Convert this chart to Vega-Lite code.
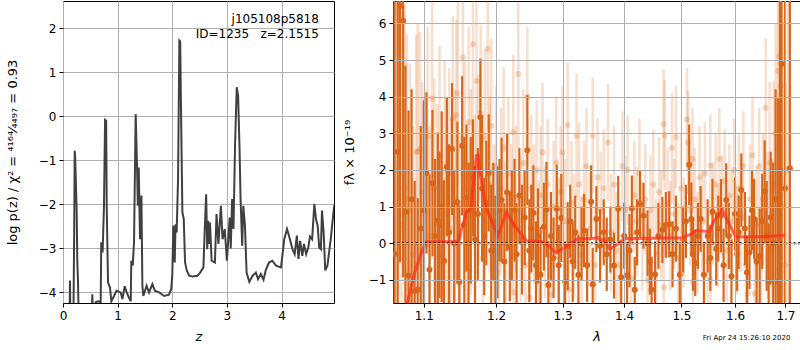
{
  "$schema": "https://vega.github.io/schema/vega-lite/v6.json",
  "autosize": {"type": "pad"},
  "padding": {"left": 5, "top": 0, "right": 1, "bottom": 0},
  "bounds": "flush",
  "spacing": 59,
  "background": "white",
  "config": {
    "font": "DejaVu Sans",
    "view": {"stroke": "black", "strokeWidth": 1},
    "axis": {"domain": false, "grid": true, "gridColor": "#b0b0b0", "gridWidth": 1, "tickColor": "black", "tickSize": 4, "labelFontSize": 12, "labelColor": "black", "titleFontSize": 13, "titleFontWeight": "normal", "titleColor": "black", "labelPadding": 3, "labelFlush": false}
  },
  "datasets": {
    "pz": [
      {"z":0.0,"lp":-5},{"z":0.1,"lp":-4.8},{"z":0.12,"lp":-4.5},{"z":0.128,"lp":-3.73},{"z":0.136,"lp":-4.6},{"z":0.19,"lp":-4.7},{"z":0.205,"lp":-2.6},{"z":0.214,"lp":-0.78},{"z":0.222,"lp":-0.9},{"z":0.25,"lp":-2.14},{"z":0.262,"lp":-3.3},{"z":0.275,"lp":-3.77},{"z":0.29,"lp":-4.8},{"z":0.52,"lp":-4.7},{"z":0.537,"lp":-4.04},{"z":0.55,"lp":-4.6},{"z":0.6,"lp":-4.22},{"z":0.65,"lp":-4.2},{"z":0.69,"lp":-4.22},{"z":0.70,"lp":-2.86},{"z":0.725,"lp":-3.09},{"z":0.75,"lp":-2.03},{"z":0.77,"lp":-0.08},{"z":0.79,"lp":-0.1},{"z":0.80,"lp":-2.03},{"z":0.824,"lp":-3.77},{"z":0.86,"lp":-3.89},{"z":0.885,"lp":-4.2},{"z":0.934,"lp":-4.08},{"z":0.98,"lp":-3.96},{"z":1.056,"lp":-4.0},{"z":1.087,"lp":-4.15},{"z":1.13,"lp":-3.86},{"z":1.166,"lp":-4.0},{"z":1.21,"lp":-4.13},{"z":1.24,"lp":-4.2},{"z":1.25,"lp":-3.28},{"z":1.276,"lp":-3.39},{"z":1.30,"lp":-2.86},{"z":1.33,"lp":0.05},{"z":1.355,"lp":-1.12},{"z":1.37,"lp":-2.03},{"z":1.386,"lp":-1.16},{"z":1.41,"lp":-2.79},{"z":1.435,"lp":-1.8},{"z":1.453,"lp":-3.85},{"z":1.47,"lp":-4.08},{"z":1.53,"lp":-3.85},{"z":1.575,"lp":-4.0},{"z":1.636,"lp":-3.81},{"z":1.68,"lp":-3.96},{"z":1.76,"lp":-4.0},{"z":1.85,"lp":-4.08},{"z":1.94,"lp":-4.05},{"z":1.98,"lp":-3.92},{"z":2.0,"lp":-3.62},{"z":2.02,"lp":-2.48},{"z":2.045,"lp":-3.32},{"z":2.06,"lp":-2.45},{"z":2.08,"lp":-2.64},{"z":2.106,"lp":-1.42},{"z":2.13,"lp":1.72},{"z":2.145,"lp":1.7},{"z":2.16,"lp":0.17},{"z":2.185,"lp":-2.18},{"z":2.21,"lp":-2.33},{"z":2.234,"lp":-3.32},{"z":2.265,"lp":-3.5},{"z":2.31,"lp":-3.62},{"z":2.37,"lp":-3.64},{"z":2.46,"lp":-3.62},{"z":2.51,"lp":-3.55},{"z":2.57,"lp":-3.43},{"z":2.595,"lp":-2.56},{"z":2.62,"lp":-1.77},{"z":2.64,"lp":-3.02},{"z":2.655,"lp":-2.37},{"z":2.67,"lp":-2.9},{"z":2.69,"lp":-2.41},{"z":2.72,"lp":-3.28},{"z":2.78,"lp":-3.32},{"z":2.81,"lp":-2.22},{"z":2.845,"lp":-2.9},{"z":2.89,"lp":-2.03},{"z":2.92,"lp":-2.79},{"z":2.96,"lp":-2.56},{"z":3.0,"lp":-3.28},{"z":3.05,"lp":-2.3},{"z":3.07,"lp":-3.0},{"z":3.095,"lp":-1.88},{"z":3.12,"lp":-2.56},{"z":3.15,"lp":-0.59},{"z":3.18,"lp":0.66},{"z":3.205,"lp":0.47},{"z":3.23,"lp":-0.67},{"z":3.25,"lp":-1.88},{"z":3.28,"lp":-2.94},{"z":3.30,"lp":-2.03},{"z":3.33,"lp":-2.48},{"z":3.36,"lp":-3.55},{"z":3.41,"lp":-3.76},{"z":3.47,"lp":-3.62},{"z":3.53,"lp":-3.55},{"z":3.57,"lp":-3.7},{"z":3.62,"lp":-3.58},{"z":3.67,"lp":-3.71},{"z":3.71,"lp":-3.5},{"z":3.77,"lp":-3.32},{"z":3.83,"lp":-3.28},{"z":3.9,"lp":-3.39},{"z":3.99,"lp":-3.43},{"z":4.05,"lp":-2.79},{"z":4.10,"lp":-2.56},{"z":4.145,"lp":-2.75},{"z":4.2,"lp":-3.02},{"z":4.24,"lp":-3.13},{"z":4.28,"lp":-2.71},{"z":4.31,"lp":-3.24},{"z":4.34,"lp":-2.83},{"z":4.38,"lp":-3.17},{"z":4.41,"lp":-2.9},{"z":4.45,"lp":-3.13},{"z":4.49,"lp":-2.98},{"z":4.52,"lp":-2.73},{"z":4.56,"lp":-2.79},{"z":4.60,"lp":-1.99},{"z":4.63,"lp":-2.33},{"z":4.66,"lp":-2.48},{"z":4.69,"lp":-2.98},{"z":4.72,"lp":-3.02},{"z":4.74,"lp":-2.14},{"z":4.77,"lp":-2.64},{"z":4.8,"lp":-3.5},{"z":4.84,"lp":-3.39},{"z":4.90,"lp":-2.79},{"z":4.95,"lp":-2.18},{"z":4.97,"lp":-2.0}
    ],
    "labels": [
      {"z":4.683,"lp":2.21,"t":"j105108p5818"},
      {"z":4.683,"lp":1.88,"t":"ID=1235\u00a0\u00a0\u00a0z=2.1515"}
    ],
    "dark": [
      {"lam":1.062,"f":-0.29,"e":8},{"lam":1.066,"f":2.5,"e":8},{"lam":1.069,"f":6.48,"e":7},{"lam":1.073,"f":6.07,"e":7},{"lam":1.076,"f":0.85,"e":4},{"lam":1.080,"f":-0.88,"e":4.5},{"lam":1.084,"f":1.2,"e":3},{"lam":1.088,"f":-1.3,"e":3},{"lam":1.092,"f":-1.27,"e":2.5},{"lam":1.096,"f":0.4,"e":2.8},{"lam":1.100,"f":0.9,"e":3.0},{"lam":1.1036,"f":1.92,"e":2.2},{"lam":1.1076,"f":-0.72,"e":2.6},{"lam":1.1115,"f":1.64,"e":2.0},{"lam":1.115,"f":0.2,"e":2.1},{"lam":1.1187,"f":0.62,"e":2.4},{"lam":1.121,"f":0.5,"e":2.0},{"lam":1.124,"f":1.0,"e":2.6},{"lam":1.127,"f":-0.48,"e":2.2},{"lam":1.131,"f":2.09,"e":1.9},{"lam":1.134,"f":0.3,"e":2.4},{"lam":1.138,"f":2.57,"e":1.8},{"lam":1.141,"f":0.0,"e":2.0},{"lam":1.1454,"f":1.12,"e":2.2},{"lam":1.148,"f":-1.06,"e":2.1},{"lam":1.152,"f":2.66,"e":1.9},{"lam":1.155,"f":0.5,"e":2.4},{"lam":1.158,"f":1.24,"e":2.0},{"lam":1.161,"f":0.0,"e":2.2},{"lam":1.164,"f":0.9,"e":2.0},{"lam":1.167,"f":1.78,"e":1.6},{"lam":1.170,"f":0.1,"e":2.0},{"lam":1.174,"f":0.8,"e":1.8},{"lam":1.1776,"f":3.44,"e":1.6},{"lam":1.180,"f":1.5,"e":2.0},{"lam":1.183,"f":0.18,"e":1.6},{"lam":1.186,"f":1.1,"e":1.7},{"lam":1.1894,"f":1.92,"e":1.6},{"lam":1.193,"f":-0.2,"e":1.8},{"lam":1.196,"f":0.6,"e":1.6},{"lam":1.199,"f":-0.2,"e":1.5},{"lam":1.202,"f":0.3,"e":1.8},{"lam":1.205,"f":0.9,"e":1.4},{"lam":1.208,"f":1.18,"e":1.7},{"lam":1.212,"f":-0.5,"e":1.6},{"lam":1.216,"f":1.39,"e":1.6},{"lam":1.220,"f":-0.08,"e":1.5},{"lam":1.223,"f":0.5,"e":1.5},{"lam":1.227,"f":0.9,"e":1.4},{"lam":1.230,"f":-0.3,"e":1.4},{"lam":1.234,"f":1.3,"e":1.3},{"lam":1.238,"f":0.1,"e":1.5},{"lam":1.242,"f":0.7,"e":1.3},{"lam":1.246,"f":2.54,"e":1.5},{"lam":1.249,"f":-0.2,"e":1.4},{"lam":1.252,"f":0.4,"e":1.2},{"lam":1.255,"f":0.83,"e":1.3},{"lam":1.259,"f":-0.6,"e":1.2},{"lam":1.262,"f":0.2,"e":1.3},{"lam":1.266,"f":-0.86,"e":1.3},{"lam":1.271,"f":0.45,"e":1.2},{"lam":1.275,"f":0.92,"e":1.3},{"lam":1.278,"f":-1.14,"e":1.2},{"lam":1.282,"f":0.2,"e":1.2},{"lam":1.286,"f":-0.4,"e":1.1},{"lam":1.291,"f":0.94,"e":1.2},{"lam":1.294,"f":-0.6,"e":1.1},{"lam":1.298,"f":0.69,"e":1.2},{"lam":1.304,"f":-1.05,"e":1.1},{"lam":1.308,"f":-0.08,"e":1.2},{"lam":1.312,"f":0.6,"e":1.0},{"lam":1.316,"f":-0.5,"e":1.1},{"lam":1.320,"f":0.3,"e":1.0},{"lam":1.325,"f":-0.86,"e":1.1},{"lam":1.330,"f":0.0,"e":1.0},{"lam":1.334,"f":0.35,"e":1.0},{"lam":1.339,"f":-0.6,"e":1.0},{"lam":1.3455,"f":1.13,"e":1.0},{"lam":1.348,"f":-1.12,"e":1.0},{"lam":1.354,"f":0.66,"e":0.9},{"lam":1.360,"f":-0.07,"e":1.0},{"lam":1.366,"f":0.3,"e":0.9},{"lam":1.371,"f":-0.3,"e":1.0},{"lam":1.377,"f":0.1,"e":0.9},{"lam":1.383,"f":-0.61,"e":0.9},{"lam":1.390,"f":0.94,"e":0.9},{"lam":1.395,"f":-0.93,"e":1.0},{"lam":1.400,"f":0.2,"e":0.9},{"lam":1.405,"f":-0.87,"e":0.9},{"lam":1.409,"f":-0.2,"e":1.0},{"lam":1.413,"f":0.95,"e":0.9},{"lam":1.418,"f":-1.27,"e":0.9},{"lam":1.422,"f":0.3,"e":0.9},{"lam":1.427,"f":1.07,"e":0.9},{"lam":1.433,"f":0.75,"e":0.9},{"lam":1.440,"f":0.0,"e":0.9},{"lam":1.444,"f":-0.5,"e":0.9},{"lam":1.447,"f":-1.27,"e":0.9},{"lam":1.453,"f":-0.85,"e":0.9},{"lam":1.459,"f":0.2,"e":0.9},{"lam":1.466,"f":0.36,"e":0.9},{"lam":1.472,"f":0.5,"e":0.9},{"lam":1.478,"f":0.52,"e":0.9},{"lam":1.484,"f":-0.3,"e":0.9},{"lam":1.490,"f":0.4,"e":0.9},{"lam":1.497,"f":-0.86,"e":0.9},{"lam":1.503,"f":0.1,"e":0.9},{"lam":1.508,"f":0.6,"e":1.0},{"lam":1.514,"f":2.14,"e":1.1},{"lam":1.518,"f":0.66,"e":1.0},{"lam":1.521,"f":-0.3,"e":1.0},{"lam":1.525,"f":-0.54,"e":0.9},{"lam":1.530,"f":0.2,"e":0.9},{"lam":1.535,"f":0.66,"e":0.9},{"lam":1.541,"f":-0.86,"e":0.9},{"lam":1.548,"f":0.2,"e":1.0},{"lam":1.553,"f":-0.4,"e":0.9},{"lam":1.557,"f":0.86,"e":0.9},{"lam":1.564,"f":-0.15,"e":1.0},{"lam":1.568,"f":0.4,"e":0.9},{"lam":1.573,"f":0.75,"e":1.0},{"lam":1.578,"f":-0.6,"e":1.0},{"lam":1.583,"f":1.18,"e":1.0},{"lam":1.588,"f":0.2,"e":0.9},{"lam":1.593,"f":-0.9,"e":1.0},{"lam":1.600,"f":0.8,"e":1.0},{"lam":1.604,"f":-0.3,"e":1.0},{"lam":1.607,"f":0.3,"e":1.0},{"lam":1.612,"f":1.45,"e":1.0},{"lam":1.619,"f":0.4,"e":1.0},{"lam":1.623,"f":-0.8,"e":1.0},{"lam":1.628,"f":-0.25,"e":1.0},{"lam":1.633,"f":0.9,"e":1.1},{"lam":1.637,"f":0.66,"e":1.1},{"lam":1.642,"f":-0.5,"e":1.2},{"lam":1.648,"f":-0.35,"e":1.3},{"lam":1.653,"f":0.6,"e":1.3},{"lam":1.658,"f":1.41,"e":1.4},{"lam":1.662,"f":0.2,"e":1.5},{"lam":1.666,"f":-1.06,"e":1.6},{"lam":1.670,"f":0.7,"e":1.8},{"lam":1.675,"f":0.0,"e":2.2},{"lam":1.680,"f":1.2,"e":3},{"lam":1.685,"f":-1.05,"e":5},{"lam":1.689,"f":2.0,"e":7},{"lam":1.692,"f":4.89,"e":8},{"lam":1.699,"f":1.5,"e":8},{"lam":1.709,"f":2.05,"e":9}
    ],
    "light": [
      {"lam":1.061,"f":1.0,"e":8},{"lam":1.064,"f":3.0,"e":7},{"lam":1.067,"f":2.0,"e":6},{"lam":1.071,"f":0.5,"e":6},{"lam":1.075,"f":1.5,"e":5},{"lam":1.078,"f":1.2,"e":4.5},{"lam":1.082,"f":0.9,"e":4},{"lam":1.086,"f":-0.3,"e":3.5},{"lam":1.090,"f":2.5,"e":3.2},{"lam":1.092,"f":2.5,"e":3.5},{"lam":1.095,"f":2.57,"e":3.2},{"lam":1.098,"f":1.4,"e":3},{"lam":1.101,"f":0.8,"e":3.2},{"lam":1.105,"f":2.9,"e":3.0},{"lam":1.108,"f":0.2,"e":3},{"lam":1.111,"f":3.95,"e":2.8},{"lam":1.114,"f":1.5,"e":3},{"lam":1.118,"f":0.6,"e":3.2},{"lam":1.121,"f":2.39,"e":3.0},{"lam":1.124,"f":-0.3,"e":2.8},{"lam":1.128,"f":2.0,"e":3},{"lam":1.131,"f":0.8,"e":3.2},{"lam":1.134,"f":1.89,"e":2.9},{"lam":1.137,"f":0.4,"e":3.0},{"lam":1.139,"f":3.39,"e":2.8},{"lam":1.142,"f":1.2,"e":3},{"lam":1.144,"f":3.5,"e":2.6},{"lam":1.146,"f":4.09,"e":2.5},{"lam":1.149,"f":0.2,"e":2.8},{"lam":1.153,"f":5.07,"e":2.4},{"lam":1.156,"f":2.2,"e":2.8},{"lam":1.159,"f":-0.7,"e":2.6},{"lam":1.161,"f":3.3,"e":2.6},{"lam":1.164,"f":1.4,"e":2.8},{"lam":1.167,"f":5.43,"e":2.2},{"lam":1.170,"f":0.9,"e":2.6},{"lam":1.172,"f":4.43,"e":2.4},{"lam":1.175,"f":2.0,"e":2.6},{"lam":1.178,"f":3.55,"e":2.4},{"lam":1.181,"f":-0.4,"e":2.5},{"lam":1.184,"f":2.9,"e":2.4},{"lam":1.188,"f":5.3,"e":2.2},{"lam":1.191,"f":1.6,"e":2.4},{"lam":1.193,"f":3.2,"e":2.4},{"lam":1.197,"f":0.3,"e":2.4},{"lam":1.200,"f":2.1,"e":2.2},{"lam":1.204,"f":-0.8,"e":2.4},{"lam":1.207,"f":1.5,"e":2.2},{"lam":1.211,"f":2.6,"e":2.2},{"lam":1.214,"f":0.0,"e":2.2},{"lam":1.218,"f":1.9,"e":2.1},{"lam":1.222,"f":0.7,"e":2.0},{"lam":1.225,"f":3.03,"e":2.1},{"lam":1.2255,"f":-1.34,"e":2.0},{"lam":1.229,"f":1.2,"e":2.0},{"lam":1.2325,"f":4.62,"e":2.0},{"lam":1.236,"f":0.4,"e":2.0},{"lam":1.240,"f":2.2,"e":2.0},{"lam":1.243,"f":-0.6,"e":2.0},{"lam":1.246,"f":4.0,"e":1.9},{"lam":1.249,"f":-1.48,"e":2.0},{"lam":1.252,"f":1.5,"e":2.0},{"lam":1.256,"f":0.8,"e":1.9},{"lam":1.260,"f":2.0,"e":1.9},{"lam":1.263,"f":-0.2,"e":1.9},{"lam":1.266,"f":1.3,"e":1.9},{"lam":1.269,"f":2.48,"e":1.9},{"lam":1.273,"f":0.3,"e":1.8},{"lam":1.277,"f":1.6,"e":1.8},{"lam":1.282,"f":-1.4,"e":1.8},{"lam":1.286,"f":1.0,"e":1.8},{"lam":1.290,"f":2.2,"e":1.8},{"lam":1.294,"f":0.0,"e":1.8},{"lam":1.297,"f":1.4,"e":1.8},{"lam":1.300,"f":2.48,"e":1.8},{"lam":1.304,"f":0.6,"e":1.7},{"lam":1.308,"f":3.23,"e":1.7},{"lam":1.310,"f":-1.26,"e":1.8},{"lam":1.314,"f":1.1,"e":1.7},{"lam":1.318,"f":0.2,"e":1.7},{"lam":1.322,"f":2.93,"e":1.7},{"lam":1.326,"f":1.6,"e":1.7},{"lam":1.330,"f":-0.3,"e":1.6},{"lam":1.334,"f":1.2,"e":1.6},{"lam":1.338,"f":2.1,"e":1.6},{"lam":1.343,"f":0.4,"e":1.6},{"lam":1.348,"f":2.93,"e":1.6},{"lam":1.352,"f":-0.6,"e":1.6},{"lam":1.356,"f":1.8,"e":1.6},{"lam":1.361,"f":0.9,"e":1.6},{"lam":1.366,"f":1.5,"e":1.6},{"lam":1.373,"f":2.75,"e":1.6},{"lam":1.378,"f":0.3,"e":1.6},{"lam":1.383,"f":1.6,"e":1.6},{"lam":1.387,"f":-0.2,"e":1.6},{"lam":1.392,"f":-0.6,"e":1.6},{"lam":1.397,"f":2.1,"e":1.5},{"lam":1.402,"f":0.9,"e":1.5},{"lam":1.406,"f":2.0,"e":1.5},{"lam":1.412,"f":-0.97,"e":1.5},{"lam":1.417,"f":1.3,"e":1.5},{"lam":1.421,"f":0.6,"e":1.5},{"lam":1.426,"f":1.9,"e":1.5},{"lam":1.431,"f":0.2,"e":1.5},{"lam":1.436,"f":1.2,"e":1.5},{"lam":1.440,"f":-1.0,"e":1.5},{"lam":1.445,"f":0.9,"e":1.5},{"lam":1.450,"f":1.6,"e":1.5},{"lam":1.455,"f":-0.3,"e":1.5},{"lam":1.460,"f":1.4,"e":1.5},{"lam":1.464,"f":0.5,"e":1.5},{"lam":1.468,"f":3.25,"e":1.5},{"lam":1.4685,"f":-1.2,"e":1.5},{"lam":1.470,"f":2.95,"e":1.5},{"lam":1.475,"f":1.1,"e":1.5},{"lam":1.480,"f":0.2,"e":1.5},{"lam":1.483,"f":2.6,"e":1.5},{"lam":1.487,"f":0.8,"e":1.5},{"lam":1.490,"f":2.9,"e":1.4},{"lam":1.494,"f":-0.4,"e":1.5},{"lam":1.499,"f":1.5,"e":1.5},{"lam":1.504,"f":0.3,"e":1.5},{"lam":1.510,"f":3.38,"e":1.4},{"lam":1.512,"f":2.75,"e":1.4},{"lam":1.516,"f":0.9,"e":1.5},{"lam":1.520,"f":2.3,"e":1.4},{"lam":1.5205,"f":-1.05,"e":1.5},{"lam":1.524,"f":1.2,"e":1.4},{"lam":1.529,"f":0.0,"e":1.4},{"lam":1.533,"f":1.8,"e":1.4},{"lam":1.538,"f":0.6,"e":1.4},{"lam":1.543,"f":1.9,"e":1.4},{"lam":1.548,"f":-0.5,"e":1.4},{"lam":1.553,"f":2.12,"e":1.4},{"lam":1.5535,"f":-1.0,"e":1.4},{"lam":1.558,"f":0.8,"e":1.4},{"lam":1.563,"f":1.6,"e":1.4},{"lam":1.567,"f":0.2,"e":1.4},{"lam":1.570,"f":2.3,"e":1.4},{"lam":1.575,"f":1.0,"e":1.4},{"lam":1.580,"f":1.7,"e":1.4},{"lam":1.584,"f":-0.2,"e":1.4},{"lam":1.589,"f":1.3,"e":1.4},{"lam":1.594,"f":0.6,"e":1.4},{"lam":1.598,"f":2.0,"e":1.4},{"lam":1.603,"f":0.0,"e":1.4},{"lam":1.607,"f":1.5,"e":1.5},{"lam":1.612,"f":0.7,"e":1.5},{"lam":1.616,"f":2.1,"e":1.5},{"lam":1.621,"f":-0.6,"e":1.5},{"lam":1.625,"f":-1.37,"e":1.5},{"lam":1.629,"f":1.2,"e":1.5},{"lam":1.634,"f":2.4,"e":1.6},{"lam":1.638,"f":-1.37,"e":1.6},{"lam":1.642,"f":0.5,"e":1.6},{"lam":1.647,"f":2.1,"e":1.6},{"lam":1.651,"f":-0.4,"e":1.7},{"lam":1.655,"f":1.2,"e":1.8},{"lam":1.660,"f":3.7,"e":1.9},{"lam":1.664,"f":0.5,"e":2.0},{"lam":1.668,"f":2.2,"e":2.2},{"lam":1.672,"f":-0.2,"e":2.5},{"lam":1.676,"f":1.6,"e":2.8},{"lam":1.680,"f":3.0,"e":3},{"lam":1.685,"f":4.7,"e":3.5},{"lam":1.687,"f":5.1,"e":3.5},{"lam":1.690,"f":4.3,"e":4},{"lam":1.694,"f":1.0,"e":5},{"lam":1.700,"f":-0.6,"e":5},{"lam":1.705,"f":2.0,"e":6}
    ],
    "model": [
      {"lam":1.066,"f":-4.0},{"lam":1.072,"f":-3.0},{"lam":1.0776,"f":-1.7},{"lam":1.0882,"f":-0.79},{"lam":1.096,"f":-0.3},{"lam":1.1036,"f":0.04},{"lam":1.1464,"f":0.05},{"lam":1.1579,"f":0.85},{"lam":1.164,"f":0.95},{"lam":1.1719,"f":2.39},{"lam":1.174,"f":2.4},{"lam":1.1766,"f":1.94},{"lam":1.1861,"f":0.94},{"lam":1.2029,"f":0.21},{"lam":1.2149,"f":0.85},{"lam":1.2271,"f":0.48},{"lam":1.2444,"f":0.07},{"lam":1.2671,"f":0.05},{"lam":1.2773,"f":-0.05},{"lam":1.2901,"f":-0.27},{"lam":1.3084,"f":-0.05},{"lam":1.3242,"f":0.12},{"lam":1.3455,"f":0.12},{"lam":1.3564,"f":0.16},{"lam":1.3614,"f":0.07},{"lam":1.3672,"f":0.12},{"lam":1.3754,"f":-0.15},{"lam":1.38,"f":-0.12},{"lam":1.3865,"f":-0.05},{"lam":1.4004,"f":0.12},{"lam":1.4987,"f":0.15},{"lam":1.5168,"f":0.24},{"lam":1.526,"f":0.35},{"lam":1.5506,"f":0.32},{"lam":1.5599,"f":0.62},{"lam":1.5757,"f":0.92},{"lam":1.5852,"f":0.62},{"lam":1.6011,"f":0.18},{"lam":1.6565,"f":0.18},{"lam":1.7005,"f":0.22}
    ],
    "stamp": [
      {"lam":1.6223,"f":-2.58,"t":"Fri Apr 24 15:26:10 2020"}
    ]
  },
  "hconcat": [
    {
      "width": 271,
      "height": 302,
      "layer": [
        {
          "data": {"name": "pz"},
          "mark": {"type": "line", "color": "#404040", "strokeWidth": 2, "clip": true},
          "encoding": {
            "x": {"field": "z", "type": "quantitative", "scale": {"domain": [0, 4.96], "nice": false, "zero": false}, "axis": {"values": [0,1,2,3,4], "title": "z", "titleFontStyle": "italic", "titlePadding": 9}},
            "y": {"field": "lp", "type": "quantitative", "scale": {"domain": [-4.24, 2.62], "nice": false, "zero": false}, "axis": {"values": [-4,-3,-2,-1,0,1,2], "title": "log p(z) / χ² = ⁴¹⁶⁴⁄₄₄₉₇ = 0.93", "titlePadding": 19}}
          }
        },
        {
          "data": {"name": "labels"},
          "mark": {"type": "text", "align": "right", "baseline": "middle", "fontSize": 12, "color": "black"},
          "encoding": {
            "x": {"field": "z", "type": "quantitative"},
            "y": {"field": "lp", "type": "quantitative"},
            "text": {"field": "t"}
          }
        }
      ]
    },
    {
      "width": 407,
      "height": 302,
      "encoding": {
        "x": {"field": "lam", "type": "quantitative", "scale": {"type": "log", "domain": [1.06, 1.73], "nice": false}, "axis": {"values": [1.1,1.2,1.3,1.4,1.5,1.6,1.7], "format": ".1f", "title": "λ", "titleFontStyle": "italic", "titlePadding": 9, "zindex": 1}},
        "y": {"field": "f", "type": "quantitative", "scale": {"domain": [-1.63, 6.61], "nice": false, "zero": false}, "axis": {"values": [-1,0,1,2,3,4,5,6], "title": "fλ × 10⁻¹⁹", "titlePadding": 12, "zindex": 1}}
      },
      "layer": [
        {
          "data": {"name": "light"},
          "mark": {"type": "errorbar", "color": "#d9671b", "opacity": 0.22, "thickness": 2.5, "clip": true},
          "encoding": {"yError": {"field": "e"}}
        },
        {
          "data": {"name": "light"},
          "mark": {"type": "point", "filled": true, "color": "#d9671b", "opacity": 0.25, "size": 36, "clip": true}
        },
        {
          "data": {"name": "dark"},
          "mark": {"type": "errorbar", "color": "#d9671b", "opacity": 1, "thickness": 2.2, "clip": true},
          "encoding": {"yError": {"field": "e"}}
        },
        {
          "data": {"name": "dark"},
          "mark": {"type": "point", "filled": true, "color": "#d9671b", "opacity": 1, "size": 36, "clip": true}
        },
        {
          "data": {"name": "model"},
          "mark": {"type": "line", "color": "#ff2a1a", "opacity": 0.7, "strokeWidth": 3, "clip": true}
        },
        {
          "data": {"name": "stamp"},
          "mark": {"type": "rule", "color": "black", "strokeDash": [2, 2.5], "strokeWidth": 2},
          "encoding": {"x": null, "y": {"datum": 0}}
        },
        {
          "data": {"name": "stamp"},
          "mark": {"type": "text", "fontSize": 7, "color": "black", "baseline": "middle", "clip": false},
          "encoding": {"text": {"field": "t"}}
        }
      ]
    }
  ]
}
